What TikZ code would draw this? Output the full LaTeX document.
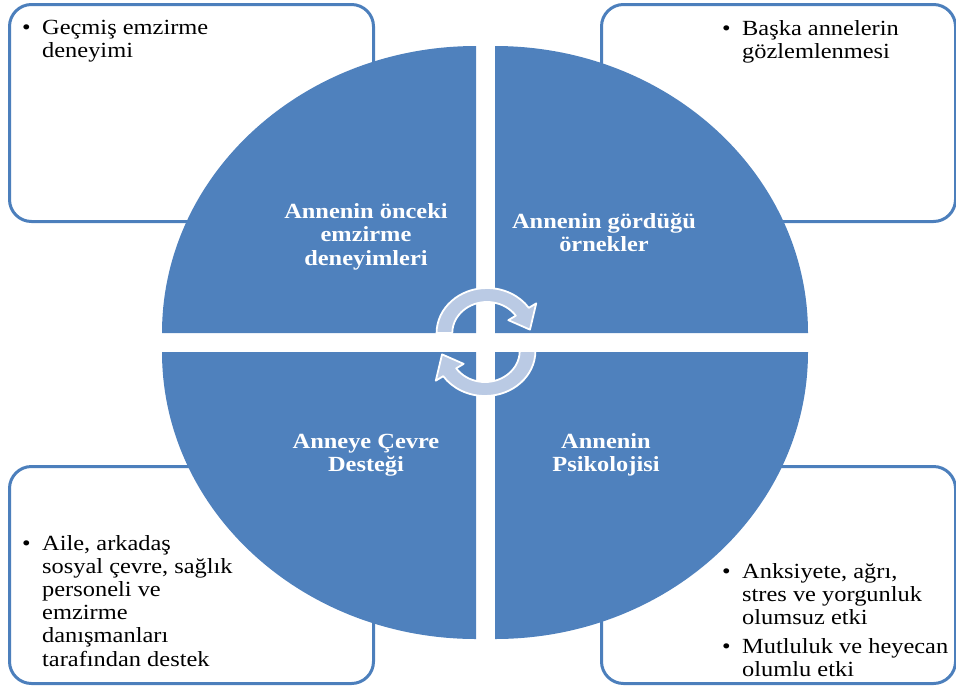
\documentclass[tikz,border=0pt]{standalone}
\usepackage{fontspec}
\setmainfont{Liberation Serif}[FakeStretch=1.13]
\begin{document}
\begin{tikzpicture}[x=1pt,y=-1pt]
\definecolor{qblue}{RGB}{79,129,189}
\definecolor{boxline}{RGB}{76,127,188}
\definecolor{arrowfill}{RGB}{186,202,228}
\tikzset{
  infobox/.style={draw=boxline, line width=3pt, fill=white, rounded corners=22pt,
    anchor=north west, inner sep=0pt},
  quadrant/.style={fill=qblue},
  bodytext/.style={anchor=base west, inner sep=0pt, text=black,
    font=\fontsize{21.6}{23.2}\selectfont},
  qlabel/.style={anchor=base, inner sep=0pt, text=white,
    font=\fontsize{21.6}{23.5}\selectfont\bfseries},
  cyclearrow/.style={fill=arrowfill, draw=white, line width=1.8pt, line join=round}
}
\newcommand\bul{\makebox[20pt][l]{\textbullet}}

\useasboundingbox (0,0) rectangle (956,689);

% outer rounded boxes
\node[infobox, minimum width=364pt, minimum height=217pt] (boxTL) at (8,3) {};
\node[infobox, minimum width=354pt, minimum height=217pt] (boxTR) at (600,3) {};
\node[infobox, minimum width=364pt, minimum height=217pt] (boxBL) at (8,465) {};
\node[infobox, minimum width=354pt, minimum height=217pt] (boxBR) at (600,465) {};

% four quadrants of the central ellipse
\fill[quadrant] (476,333) -- (162,333)
  arc[start angle=180, end angle=270, x radius=314, y radius=287] -- cycle;
\fill[quadrant] (495,333) -- (495,46)
  arc[start angle=270, end angle=360, x radius=313, y radius=287] -- cycle;
\fill[quadrant] (476,352) -- (162,352)
  arc[start angle=180, end angle=90, x radius=314, y radius=287] -- cycle;
\fill[quadrant] (495,352) -- (808,352)
  arc[start angle=0, end angle=90, x radius=313, y radius=287] -- cycle;

% circular arrows in the middle
\begin{scope}[shift={(487,333)}, xscale=1.12, yscale=-1]
  \path[cyclearrow] (180:45) arc[start angle=180, end angle=34, radius=45]
    -- (34:53) -- (5:38.5) -- (34:23) -- (34:31)
    arc[start angle=34, end angle=180, radius=31] -- cycle;
\end{scope}
\begin{scope}[shift={(485,351)}, rotate=180, xscale=1.12, yscale=-1]
  \path[cyclearrow] (180:45) arc[start angle=180, end angle=34, radius=45]
    -- (34:53) -- (5:38.5) -- (34:23) -- (34:31)
    arc[start angle=34, end angle=180, radius=31] -- cycle;
\end{scope}

% quadrant titles
\node[qlabel] (qTL) at (366,218) {\begin{tabular}[t]{@{}c@{}}Annenin önceki\\emzirme\\deneyimleri\end{tabular}};
\node[qlabel] (qTR) at (604,228) {\begin{tabular}[t]{@{}c@{}}Annenin gördüğü\\örnekler\end{tabular}};
\node[qlabel] (qBL) at (366,448) {\begin{tabular}[t]{@{}c@{}}Anneye Çevre\\Desteği\end{tabular}};
\node[qlabel] (qBR) at (606,448) {\begin{tabular}[t]{@{}c@{}}Annenin\\Psikolojisi\end{tabular}};

% bullet texts
\node[bodytext] (tTL) at (22,34) {\begin{tabular}[t]{@{}l@{}l@{}}
  \bul & Geçmiş emzirme\\ & deneyimi\end{tabular}};
\node[bodytext] (tTR) at (722,35) {\begin{tabular}[t]{@{}l@{}l@{}}
  \bul & Başka annelerin\\ & gözlemlenmesi\end{tabular}};
\node[bodytext] (tBL) at (22,550) {\begin{tabular}[t]{@{}l@{}l@{}}
  \bul & Aile, arkadaş\\ & sosyal çevre, sağlık\\ & personeli ve\\
  & emzirme\\ & danışmanları\\ & tarafından destek\end{tabular}};
\node[bodytext] (tBR) at (722,578) {\begin{tabular}[t]{@{}l@{}l@{}}
  \bul & Anksiyete, ağrı,\\ & stres ve yorgunluk\\ & olumsuz etki\\[6pt]
  \bul & Mutluluk ve heyecan\\ & olumlu etki\end{tabular}};
\end{tikzpicture}
\end{document}
